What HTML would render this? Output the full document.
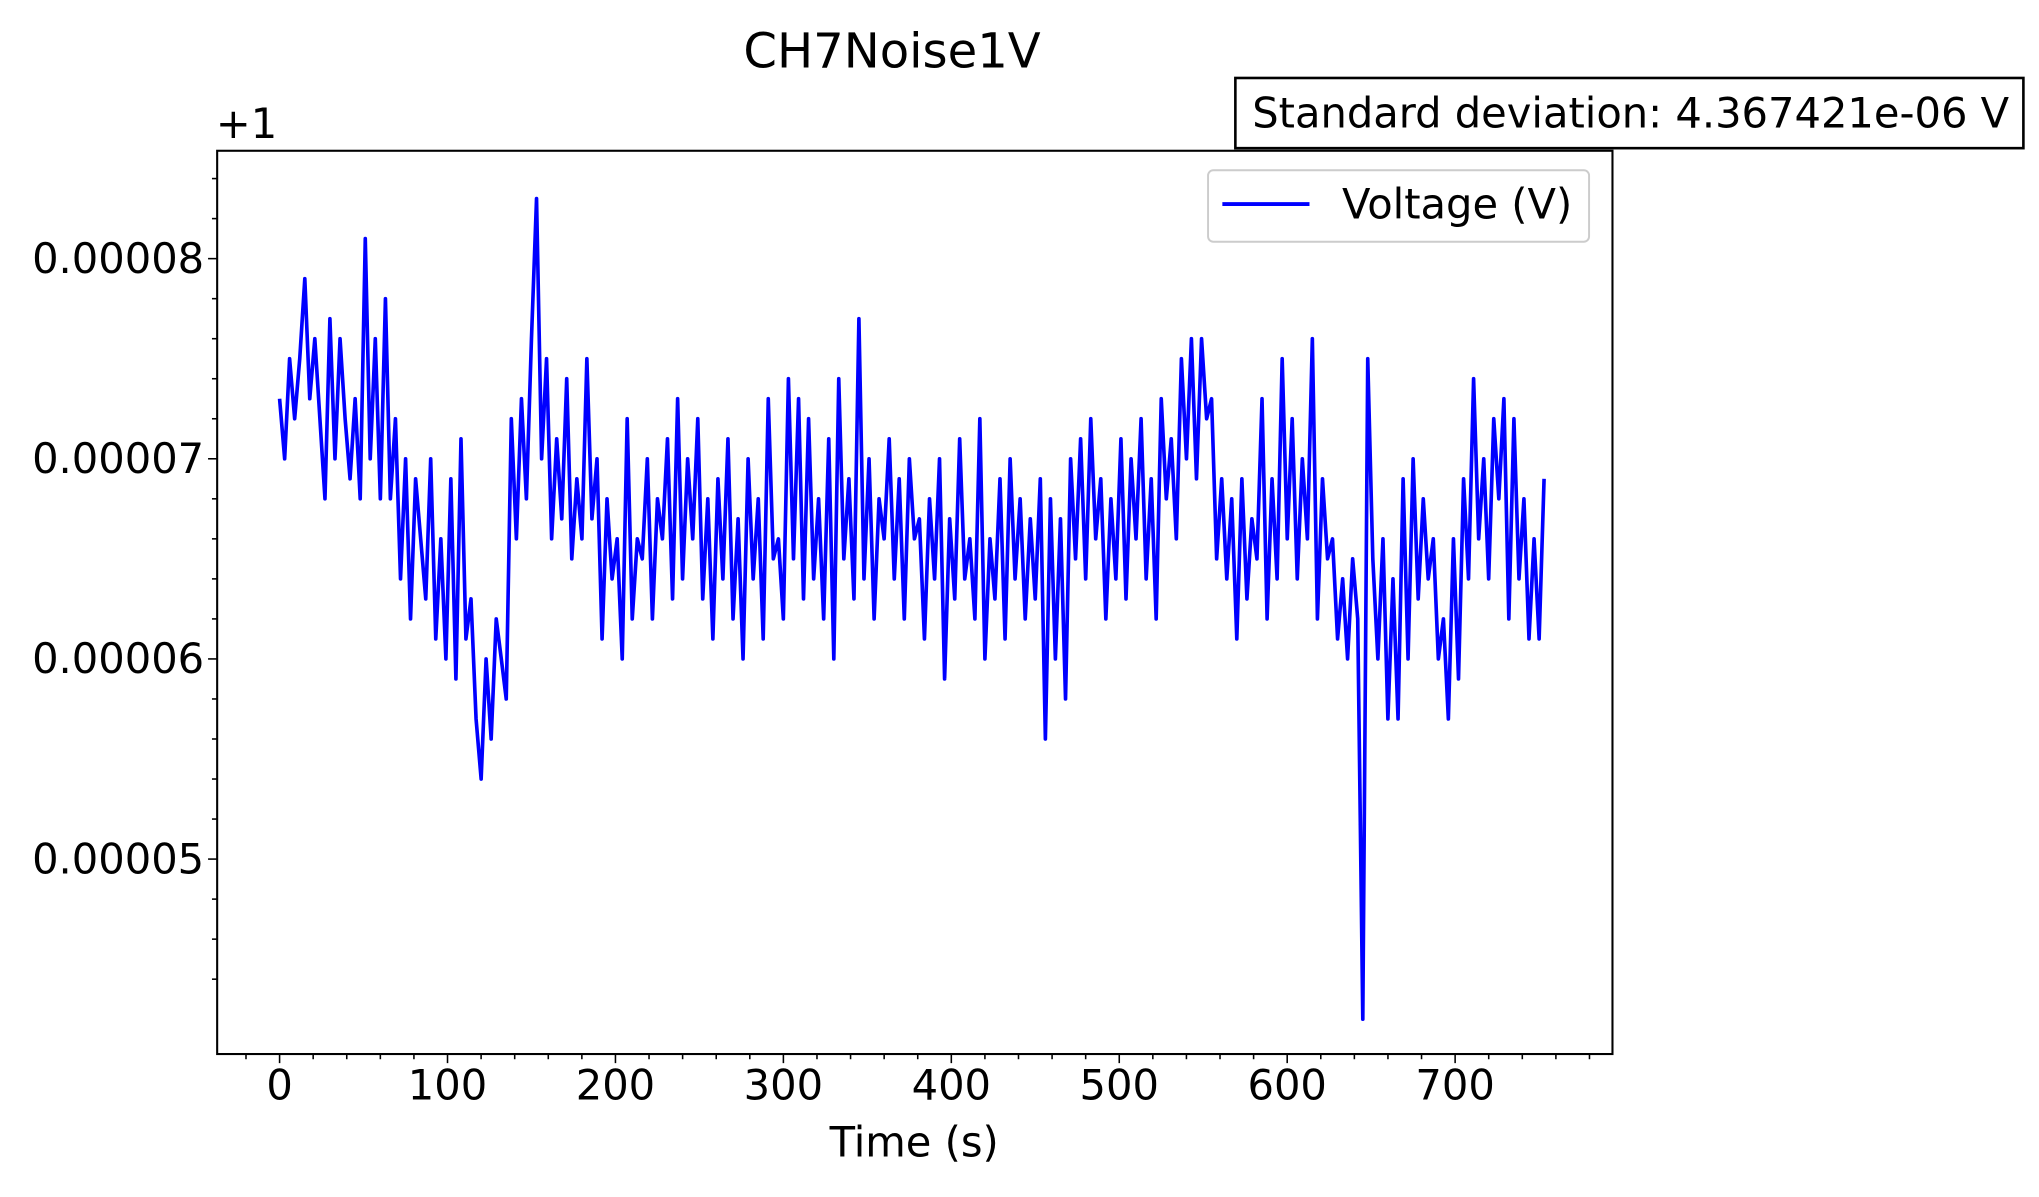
<!DOCTYPE html>
<html><head><meta charset="utf-8"><style>
html,body{margin:0;padding:0;background:#fff;}
svg{display:block;font-family:"DejaVu Sans","Liberation Sans",sans-serif;}
</style></head><body>
<svg id="chart" width="2039" height="1197" viewBox="0 0 1568 921" preserveAspectRatio="none" xmlns="http://www.w3.org/2000/svg">
<rect width="1568" height="921" fill="#fff"/>
<text x="686" y="52" font-size="37" text-anchor="middle">CH7Noise1V</text>
<g>
<rect x="950" y="60" width="606" height="54" fill="#fff" stroke="#000" stroke-width="2"/>
<text x="963" y="98" font-size="32">Standard deviation: 4.367421e-06 V</text>
</g>
<text x="166" y="106" font-size="32">+1</text>
<g id="axes"></g>
<g id="series"></g>
<rect x="167" y="116" width="1073" height="695" fill="none" stroke="#000" stroke-width="1.6"/>
<g>
<rect x="929" y="131" width="293" height="55" rx="4" fill="#fff" stroke="#ccc" stroke-width="1.5"/>
<line x1="940" y1="157" x2="1007" y2="157" stroke="#0000ff" stroke-width="3"/>
<text x="1032" y="168" font-size="32">Voltage (V)</text>
</g>
<text x="703" y="890" font-size="32" text-anchor="middle">Time (s)</text>
</svg>
<script>
const xTicks = [0,100,200,300,400,500,600,700];
const yTicks = [80,70,60,50];
const yTickLabels = ["0.00008","0.00007","0.00006","0.00005"];
const tStep = 3;
const voltages = [73,70,75,72,75,79,73,76,72,68,77,70,76,72,69,73,68,81,70,76,68,
78,68,72,64,70,62,69,66,63,70,61,66,60,69,59,71,61,63,57,54,
60,56,62,60,58,72,66,73,68,76,83,70,75,66,71,67,74,65,69,66,
75,67,70,61,68,64,66,60,72,62,66,65,70,62,68,66,71,63,73,64,
70,66,72,63,68,61,69,64,71,62,67,60,70,64,68,61,73,65,66,62,
74,65,73,63,72,64,68,62,71,60,74,65,69,63,77,64,70,62,68,66,
71,64,69,62,70,66,67,61,68,64,70,59,67,63,71,64,66,62,72,60,
66,63,69,61,70,64,68,62,67,63,69,56,68,60,67,58,70,65,71,64,
72,66,69,62,68,64,71,63,70,66,72,64,69,62,73,68,71,66,75,70,
76,69,76,72,73,65,69,64,68,61,69,63,67,65,73,62,69,64,75,66,
72,64,70,66,76,62,69,65,66,61,64,60,65,62,42,75,65,60,66,57,
64,57,69,60,70,63,68,64,66,60,62,57,66,59,69,64,74,66,70,64,
72,68,73,62,72,64,68,61,66,61,69];
const NS="http://www.w3.org/2000/svg";
function xs(t){return 215+(t)*(1119-215)/700;}
function ys(v){return 199+(80-v)*15.4;}
const axes=document.getElementById('axes');
function mk(tag,attrs,parent){const e=document.createElementNS(NS,tag);for(const k in attrs)e.setAttribute(k,attrs[k]);parent.appendChild(e);return e;}
for(let t=-40;t<=780;t+=20){
  if(xs(t)<167||xs(t)>1240)continue;
  const major=t%100===0;
  const l=mk('line',{x1:xs(t),x2:xs(t),y1:811,y2:811+(major?7:4),stroke:'#000','stroke-width':1.2},axes);
  
  
}
xTicks.forEach(t=>{
  const tx=mk('text',{x:xs(t),y:846,'font-size':32,'text-anchor':'middle'},axes);
  tx.textContent=String(t);
  
  
});
for(let v=44;v<=84;v+=2){
  if(ys(v)<116||ys(v)>811)continue;
  const major=v%10===0;
  const l=mk('line',{x1:167-(major?7:4),x2:167,y1:ys(v),y2:ys(v),stroke:'#000','stroke-width':1.2},axes);
  
  
}
yTicks.forEach((v,i)=>{
  const tx=mk('text',{x:157,y:ys(v)+11,'font-size':32,'text-anchor':'end'},axes);
  tx.textContent=yTickLabels[i];
  
  
});
const pts=voltages.map((v,i)=>xs(i*tStep).toFixed(1)+','+ys(v).toFixed(1)).join(' ');
const pl=mk('polyline',{points:pts,fill:'none',stroke:'#0000ff','stroke-width':2.8,'stroke-linejoin':'round'},document.getElementById('series'));


</script>
</body></html>
